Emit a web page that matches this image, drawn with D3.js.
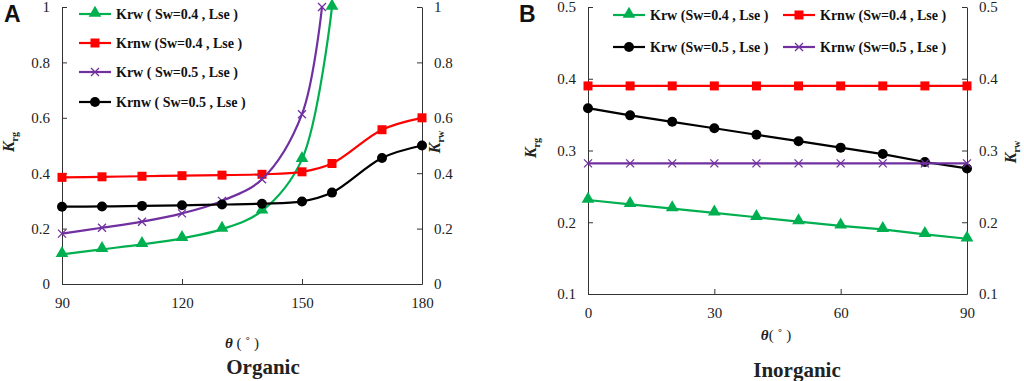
<!DOCTYPE html>
<html>
  <head>
    <title>Krg / Krw vs contact angle</title>
    <script src="https://d3js.org/d3.v7.min.js"></script>
    <style>
    body { margin: 0; background: white; }
    svg text { font-family: "Liberation Serif", "Times New Roman", serif; fill: #222; }
    .legend text { font-size: 14px; font-weight: bold; fill: #111; }
    svg text.letter { font-family: "Liberation Sans", Arial, sans-serif; font-weight: bold; font-size: 23px; fill: #111; }
    </style>
  </head>
  <body>
      <script>
          var width = 1024;
          var height = 381;

          // ---- panel A (organic) ----
          var thetaA = [90, 100, 110, 120, 130, 140, 150, 157.5, 170, 180];
          var thetaA_krw04 = [90, 100, 110, 120, 130, 140, 150, 157.5];
          var krw04_A = [0.107, 0.125, 0.143, 0.165, 0.198, 0.264, 0.45, 1.0];
          var krnw04_A = [0.385, 0.387, 0.389, 0.391, 0.393, 0.396, 0.405, 0.435, 0.557, 0.600];
          var thetaA_krw05 = [90, 100, 110, 120, 130, 140, 150, 155];
          var krw05_A = [0.182, 0.203, 0.225, 0.255, 0.300, 0.378, 0.613, 1.0];
          var krnw05_A = [0.279, 0.280, 0.282, 0.284, 0.287, 0.290, 0.298, 0.330, 0.455, 0.500];
          var ticksXA = [90, 120, 150, 180];
          var ticksYA = [0, 0.2, 0.4, 0.6, 0.8, 1];

          // ---- panel B (inorganic) ----
          var thetaB = [0, 10, 20, 30, 40, 50, 60, 70, 80, 90];
          var krw04_B = [0.231, 0.225, 0.219, 0.213, 0.207, 0.201, 0.195, 0.190, 0.183, 0.177];
          var krnw04_B = [0.390, 0.390, 0.390, 0.390, 0.390, 0.390, 0.390, 0.390, 0.390, 0.390];
          var krw05_B = [0.359, 0.349, 0.340, 0.331, 0.322, 0.313, 0.304, 0.295, 0.284, 0.275];
          var krnw05_B = [0.282, 0.282, 0.282, 0.282, 0.282, 0.282, 0.282, 0.282, 0.282, 0.282];
          var ticksXB = [0, 30, 60, 90];
          var ticksYB = [0.1, 0.2, 0.3, 0.4, 0.5];

          var green = "#00b050", red = "#ff0000", purple = "#7030a0", black = "#000000";

          var svg = d3.select("body")
                      .append("svg")
                      .attr("width", width)
                      .attr("height", height)
                      .style("background", "white");

          function zip(xs, ys) {
            return ys.map(function(y, i){ return {x: xs[i], y: y}; });
          }

          function marker(g, type, color, x, y) {
            if (type == "tri") {
              g.append("path").attr("d", d3.symbol(d3.symbolTriangle, 70)())
               .attr("transform", "translate(" + x + "," + (y - 1) + ")").attr("fill", color);
            } else if (type == "sq") {
              g.append("rect").attr("x", x - 4.5).attr("y", y - 4.5).attr("width", 9).attr("height", 9).attr("fill", color);
            } else if (type == "circ") {
              g.append("circle").attr("cx", x).attr("cy", y).attr("r", 5).attr("fill", color);
            } else {
              g.append("path").attr("d", "M" + (x - 4) + "," + (y - 4) + "L" + (x + 4) + "," + (y + 4) +
                                         "M" + (x - 4) + "," + (y + 4) + "L" + (x + 4) + "," + (y - 4))
               .attr("stroke", color).attr("stroke-width", 1.3).attr("fill", "none");
            }
          }

          function drawPanel(p) {
            var x = d3.scaleLinear().domain(p.xDomain).range([p.left, p.right]);
            var y = d3.scaleLinear().domain(p.yDomain).range([p.bottom, p.top]);
            var g = svg.append("g");

            // axes, ticks pointing inwards
            var fmt = function(d){ return d3.format("~g")(d); };
            var style = function(a){
              a.attr("font-family", null);
              a.select(".domain").attr("stroke", "#333");
              a.selectAll(".tick line").attr("stroke", "#333");
              a.selectAll(".tick text").style("font-family", "'Liberation Serif', 'Times New Roman', serif")
               .style("font-size", "15px").attr("fill", "#222");
            };
            g.append("g").attr("transform", "translate(0," + p.bottom + ")")
             .call(d3.axisBottom(x).tickValues(p.xTicks).tickSize(-5).tickPadding(13).tickSizeOuter(0))
             .call(style);
            g.append("g").attr("transform", "translate(" + p.left + ",0)")
             .call(d3.axisLeft(y).tickValues(p.yTicks).tickFormat(fmt).tickSize(-5).tickPadding(12).tickSizeOuter(0))
             .call(style);
            g.append("g").attr("transform", "translate(" + p.right + ",0)")
             .call(d3.axisRight(y).tickValues(p.yTicks).tickFormat(fmt).tickSize(-5).tickPadding(12).tickSizeOuter(0))
             .call(style);

            // series
            p.series.forEach(function(s) {
              var pts = zip(s.x, s.y);
              var line = d3.line().x(function(d){ return x(d.x); }).y(function(d){ return y(d.y); })
                           .curve(p.smooth ? d3.curveCatmullRom : d3.curveLinear);
              g.append("path").attr("d", line(pts)).attr("fill", "none")
               .attr("stroke", s.color).attr("stroke-width", 2.2);
              pts.forEach(function(d){ marker(g, s.mark, s.color, x(d.x), y(d.y)); });
            });

            // legend
            var lg = g.append("g").attr("class", "legend");
            p.series.forEach(function(s, i) {
              var lx = p.legend[i][0], ly = p.legend[i][1];
              lg.append("line").attr("x1", lx).attr("x2", lx + 32).attr("y1", ly).attr("y2", ly)
                .attr("stroke", s.color).attr("stroke-width", 2.2);
              marker(lg, s.mark, s.color, lx + 16, ly);
              lg.append("text").attr("x", lx + 37).attr("y", ly + 5).text(s.name);
            });

            // axis titles
            function kLabel(cx, cy, sub) {
              var t = g.append("text").attr("transform", "translate(" + cx + "," + cy + ") rotate(-90)")
                       .attr("text-anchor", "middle").attr("font-weight", "bold").attr("font-size", 16);
              t.append("tspan").attr("font-style", "italic").text("K");
              t.append("tspan").attr("font-size", 10).attr("dy", 4).text(sub);
            }
            kLabel(p.ylab[0], p.ylab[1], "rg");
            kLabel(p.ylab2[0], p.ylab2[1], "rw");

            var xt = g.append("text").attr("x", p.xlab[0]).attr("y", p.xlab[1]).attr("text-anchor", "middle")
                      .attr("font-size", 15).attr("font-weight", "bold");
            xt.append("tspan").attr("font-style", "italic").text("θ");
            xt.append("tspan").attr("font-weight", "normal").text(p.thetaGap);

            g.append("text").attr("x", p.title[0]).attr("y", p.title[1]).attr("text-anchor", "middle")
             .attr("font-size", 21).attr("font-weight", "bold").attr("fill", "#111").text(p.name);

            g.append("text").attr("class", "letter").attr("x", p.letter[0]).attr("y", p.letter[1]).text(p.letterText);
          }

          drawPanel({
            xDomain: [90, 180], yDomain: [0, 1],
            left: 62, right: 422, top: 7, bottom: 284,
            xTicks: ticksXA, yTicks: ticksYA, smooth: true,
            series: [
              {name: "Krw ( Sw=0.4 , Lse )", x: thetaA_krw04, y: krw04_A, color: green, mark: "tri"},
              {name: "Krnw (Sw=0.4 , Lse )", x: thetaA, y: krnw04_A, color: red, mark: "sq"},
              {name: "Krw ( Sw=0.5 , Lse )", x: thetaA_krw05, y: krw05_A, color: purple, mark: "x"},
              {name: "Krnw ( Sw=0.5 , Lse )", x: thetaA, y: krnw05_A, color: black, mark: "circ"}
            ],
            legend: [[79, 14], [79, 43], [79, 72], [79, 102]],
            ylab: [14, 142], ylab2: [440, 142],
            xlab: [242, 348], thetaGap: " ( ˚  )",
            title: [263, 374], name: "Organic",
            letter: [4, 22], letterText: "A"
          });

          drawPanel({
            xDomain: [0, 90], yDomain: [0.1, 0.5],
            left: 588, right: 967, top: 7, bottom: 294,
            xTicks: ticksXB, yTicks: ticksYB, smooth: false,
            series: [
              {name: "Krw (Sw=0.4 , Lse )", x: thetaB, y: krw04_B, color: green, mark: "tri"},
              {name: "Krnw (Sw=0.4 , Lse )", x: thetaB, y: krnw04_B, color: red, mark: "sq"},
              {name: "Krw (Sw=0.5 , Lse )", x: thetaB, y: krw05_B, color: black, mark: "circ"},
              {name: "Krnw (Sw=0.5 , Lse )", x: thetaB, y: krnw05_B, color: purple, mark: "x"}
            ],
            legend: [[613, 15], [783, 15], [613, 47], [783, 47]],
            ylab: [536, 148], ylab2: [1016, 152],
            xlab: [776, 340], thetaGap: "( ˚  )",
            title: [797, 377], name: "Inorganic",
            letter: [519, 22], letterText: "B"
          });
      </script>
  </body>
</html>
